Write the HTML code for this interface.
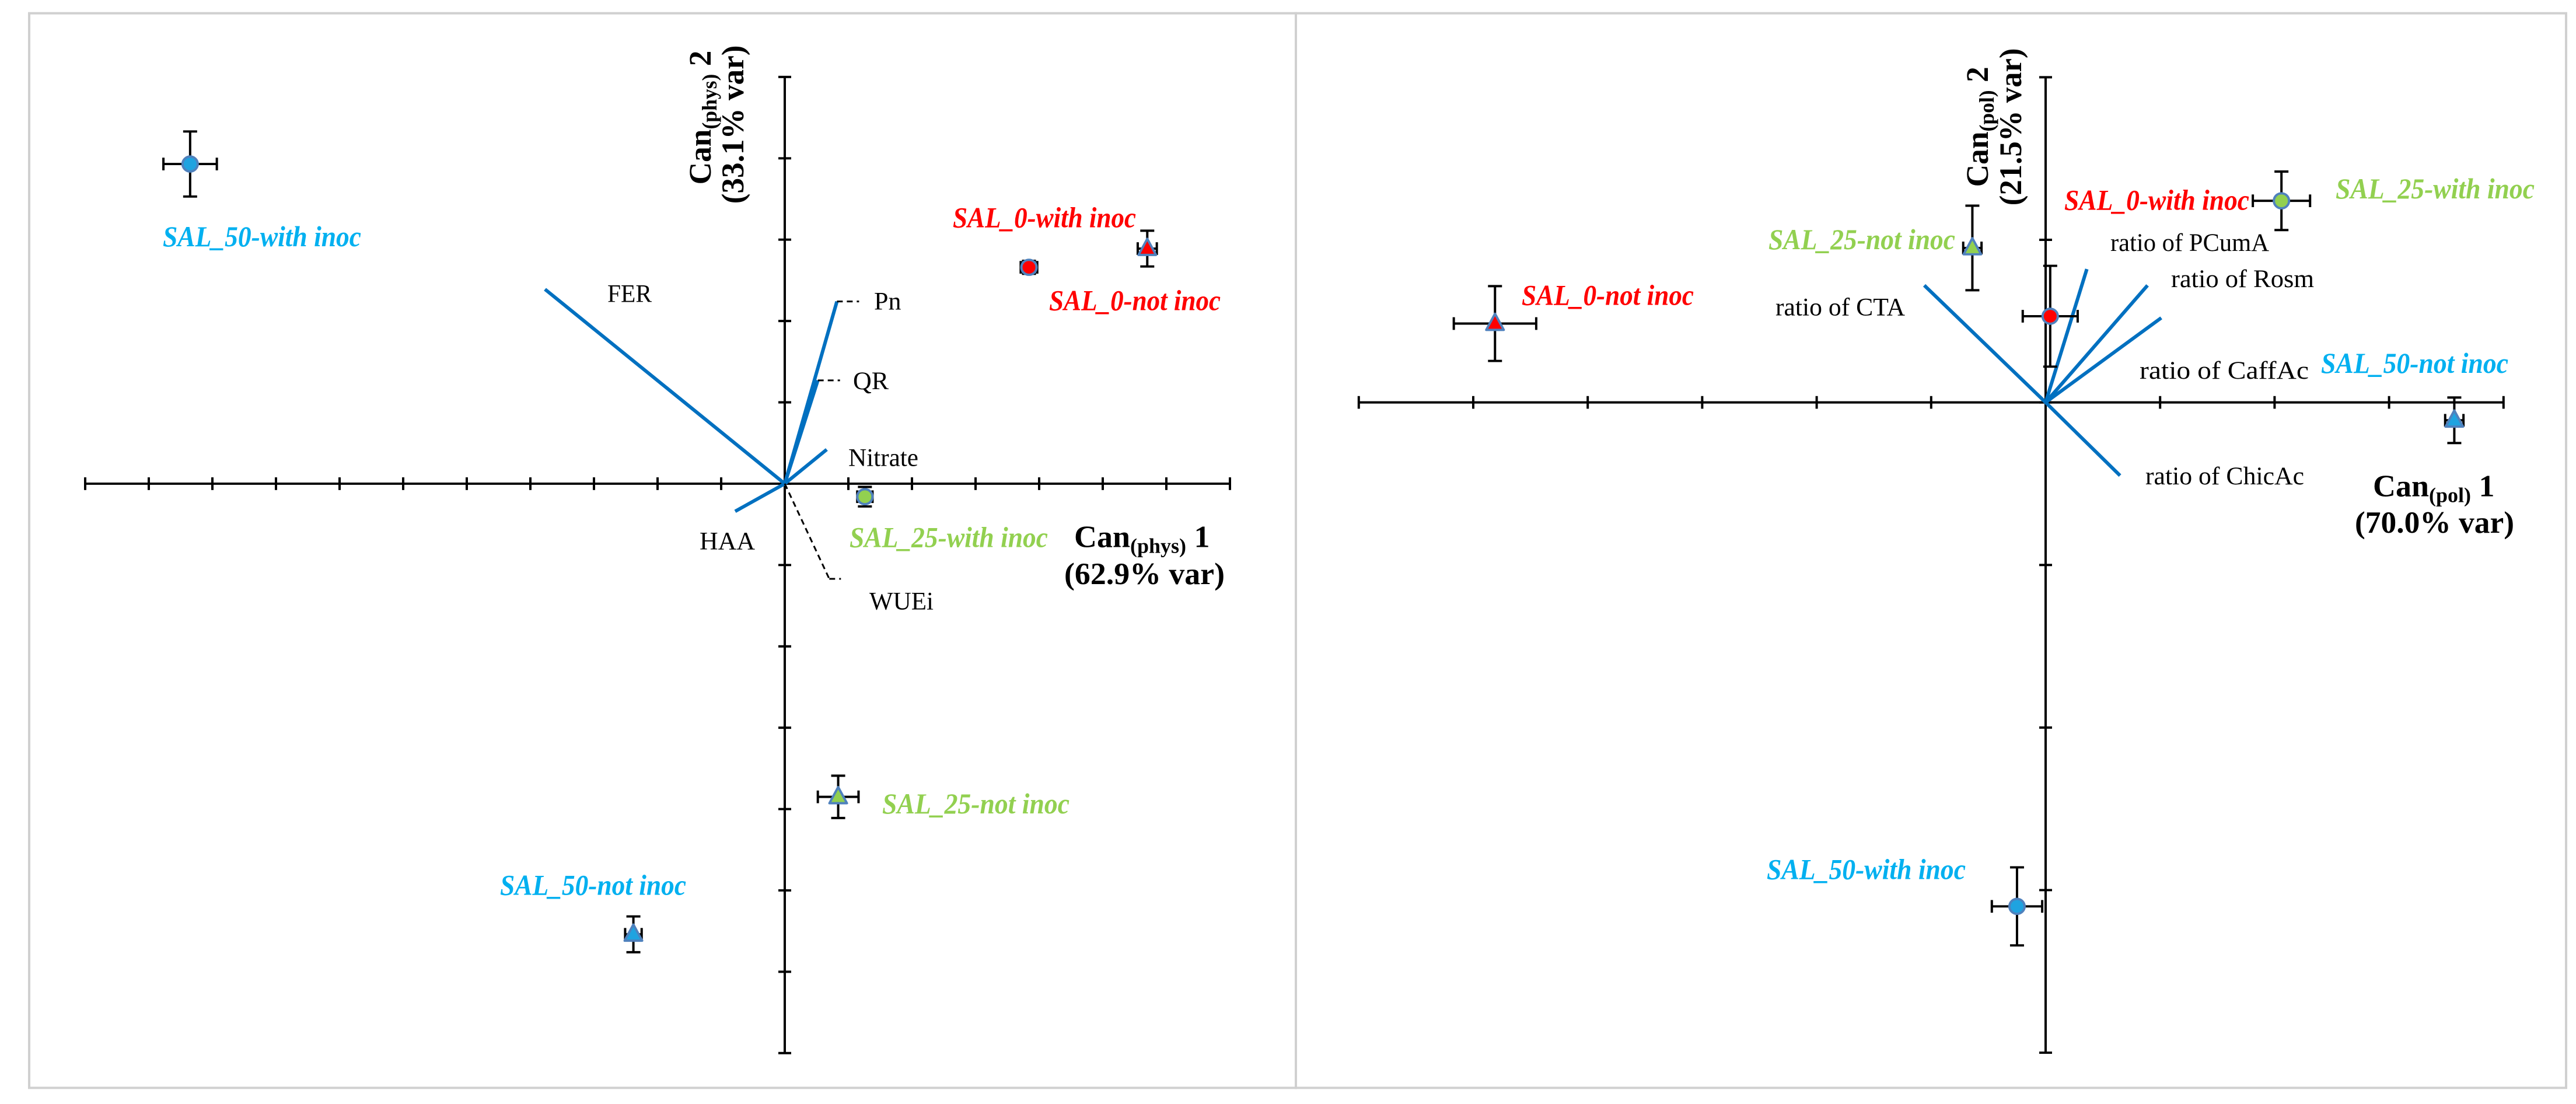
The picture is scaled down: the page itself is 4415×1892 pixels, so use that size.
<!DOCTYPE html>
<html><head><meta charset="utf-8"><style>
html,body{margin:0;padding:0;background:#fff}
svg{display:block}
text{font-family:"Liberation Serif",serif}
.pl{font-weight:bold;font-style:italic;font-size:50px}
.vl{font-size:44px;fill:#000}
.at{font-weight:bold;font-size:54px;fill:#000}
</style></head><body>
<svg id="chart" width="4415" height="1892" viewBox="0 0 4415 1915" preserveAspectRatio="none" xmlns="http://www.w3.org/2000/svg">
<rect x="50" y="23" width="2171" height="1864" fill="none" stroke="#d0d0d0" stroke-width="4"/>
<rect x="2221" y="23" width="2177" height="1864" fill="none" stroke="#d0d0d0" stroke-width="4"/>
<g id="left"></g>
<g id="right"></g>
</svg>
<script>
// ---- Left panel data (physiology) ----
const leftGroups = ["SAL_50-with inoc","SAL_0-with inoc","SAL_0-not inoc","SAL_25-with inoc","SAL_25-not inoc","SAL_50-not inoc"];
const leftX = [-9.35, 3.84, 5.70, 1.26, 0.84, -2.38];
const leftY = [3.93, 2.66, 2.89, -0.16, -3.85, -5.54];
const leftXErr = [0.42, 0.13, 0.15, 0.12, 0.32, 0.13];
const leftYErr = [0.40, 0.08, 0.22, 0.12, 0.26, 0.22];
const leftShape = ["circle","circle","triangle","circle","triangle","triangle"];
const leftVars = ["FER","Pn","QR","Nitrate","HAA","WUEi"];
const leftVX = [-3.77, 0.82, 0.52, 0.66, -0.78, 0.70];
const leftVY = [2.39, 2.24, 1.27, 0.42, -0.34, -1.17];
const leftXTicks = [-11,-10,-9,-8,-7,-6,-5,-4,-3,-2,-1,0,1,2,3,4,5,6,7];
const leftYTicks = [5,4,3,2,1,0,-1,-2,-3,-4,-5,-6,-7];

// ---- Right panel data (polyphenols) ----
const rightGroups = ["SAL_0-not inoc","SAL_25-not inoc","SAL_0-with inoc","SAL_25-with inoc","SAL_50-not inoc","SAL_50-with inoc"];
const rightX = [-4.81, -0.64, 0.04, 2.06, 3.57, -0.25];
const rightY = [0.485, 0.95, 0.53, 1.24, -0.11, -3.10];
const rightXErr = [0.36, 0.08, 0.24, 0.25, 0.08, 0.22];
const rightYErr = [0.23, 0.26, 0.31, 0.18, 0.14, 0.24];
const rightShape = ["triangle","triangle","circle","circle","triangle","circle"];
const rightVars = ["ratio of CTA","ratio of PCumA","ratio of Rosm","ratio of CaffAc","ratio of ChicAc"];
const rightVX = [-1.06, 0.36, 0.89, 1.01, 0.65];
const rightVY = [0.72, 0.82, 0.72, 0.52, -0.45];
const rightXTicks = [-6,-5,-4,-3,-2,-1,0,1,2,3,4];
const rightYTicks = [2,1,0,-1,-2,-3,-4];

const NS = "http://www.w3.org/2000/svg";
function mk(parent, tag, attrs){const e=document.createElementNS(NS,tag);for(const k in attrs)e.setAttribute(k,attrs[k]);parent.appendChild(e);return e;}
const colorOf = g => g.indexOf("SAL_0-")===0?"#FF0000":(g.indexOf("SAL_25")===0?"#92D050":"#1FA3E0");

function drawPanel(root, cfg){
  const sx = v => cfg.ox + v*cfg.ux;
  const sy = v => cfg.oy - v*cfg.uy;
  const xmin=Math.min(...cfg.xt), xmax=Math.max(...cfg.xt), ymin=Math.min(...cfg.yt), ymax=Math.max(...cfg.yt);
  let a = mk(root,"line",{x1:sx(xmin),x2:sx(xmax),y1:sy(0),y2:sy(0),stroke:"#000","stroke-width":4});
  
  
  a = mk(root,"line",{x1:sx(0),x2:sx(0),y1:sy(ymax),y2:sy(ymin),stroke:"#000","stroke-width":4});
  
  
  cfg.xt.forEach(t=>{const e=mk(root,"line",{x1:sx(t),x2:sx(t),y1:sy(0)-11,y2:sy(0)+11,stroke:"#000","stroke-width":4});
    
    });
  cfg.yt.forEach(t=>{const e=mk(root,"line",{x1:sx(0)-11,x2:sx(0)+11,y1:sy(t),y2:sy(t),stroke:"#000","stroke-width":4});
    
    });
  cfg.vars.forEach((v,i)=>{
    const dashed = cfg.dashVars.indexOf(v)>=0;
    const e=mk(root,"line",{x1:sx(0),y1:sy(0),x2:sx(cfg.vx[i]),y2:sy(cfg.vy[i]),stroke:dashed?"#000":"#0070C0","stroke-width":dashed?3:6,"stroke-dasharray":dashed?"10,7":"none"});
    
    
    if(cfg.leader[v]){const L=cfg.leader[v];
      const d=mk(root,"line",{x1:sx(cfg.vx[i]),y1:sy(cfg.vy[i]),x2:sx(cfg.vx[i])+L,y2:sy(cfg.vy[i]),stroke:"#000","stroke-width":3,"stroke-dasharray":"10,7"});
      
      }
  });
  cfg.groups.forEach((g,i)=>{
    const cx=sx(cfg.x[i]), cy=sy(cfg.y[i]);
    const ex=cfg.xe[i]*cfg.ux, ey=cfg.ye[i]*cfg.uy;
    const eg=mk(root,"g",{stroke:"#000","stroke-width":4});
    
    
    mk(eg,"line",{x1:cx-ex,x2:cx+ex,y1:cy,y2:cy});
    mk(eg,"line",{x1:cx,x2:cx,y1:cy-ey,y2:cy+ey});
    mk(eg,"line",{x1:cx-ex,x2:cx-ex,y1:cy-11,y2:cy+11});
    mk(eg,"line",{x1:cx+ex,x2:cx+ex,y1:cy-11,y2:cy+11});
    mk(eg,"line",{x1:cx-12,x2:cx+12,y1:cy-ey,y2:cy-ey});
    mk(eg,"line",{x1:cx-12,x2:cx+12,y1:cy+ey,y2:cy+ey});
    let m;
    if(cfg.shape[i]==="circle") m=mk(root,"circle",{cx:cx,cy:cy,r:13,fill:colorOf(g),stroke:"#4F81BD","stroke-width":4});
    else m=mk(root,"polygon",{points:`${cx},${cy-17} ${cx+15},${cy+11} ${cx-15},${cy+11}`,fill:colorOf(g),stroke:"#4F81BD","stroke-width":4,"stroke-linejoin":"round"});
    
    
  });
}

drawPanel(document.getElementById("left"),{p:"left",ox:1345,oy:839,ux:109.0,uy:141.1,xt:leftXTicks,yt:leftYTicks,
  groups:leftGroups,x:leftX,y:leftY,xe:leftXErr,ye:leftYErr,shape:leftShape,vars:leftVars,vx:leftVX,vy:leftVY,
  dashVars:["WUEi"],leader:{"Pn":38,"QR":38,"WUEi":20}});
drawPanel(document.getElementById("right"),{p:"right",ox:3506,oy:698,ux:196.2,uy:282,xt:rightXTicks,yt:rightYTicks,
  groups:rightGroups,x:rightX,y:rightY,xe:rightXErr,ye:rightYErr,shape:rightShape,vars:rightVars,vx:rightVX,vy:rightVY,
  dashVars:[],leader:{}});
</script>
<svg style="position:absolute;left:0;top:0" width="4415" height="1892" viewBox="0 0 4415 1915" preserveAspectRatio="none" xmlns="http://www.w3.org/2000/svg">
<g class="pl">
<text x="279" y="427" fill="#00B0F0" textLength="340" lengthAdjust="spacingAndGlyphs">SAL_50-with inoc</text>
<text x="1633" y="394" fill="#FF0000" textLength="314" lengthAdjust="spacingAndGlyphs">SAL_0-with inoc</text>
<text x="1798" y="538" fill="#FF0000" textLength="294" lengthAdjust="spacingAndGlyphs">SAL_0-not inoc</text>
<text x="1456" y="949" fill="#92D050" textLength="340" lengthAdjust="spacingAndGlyphs">SAL_25-with inoc</text>
<text x="1512" y="1411" fill="#92D050" textLength="321" lengthAdjust="spacingAndGlyphs">SAL_25-not inoc</text>
<text x="857" y="1552" fill="#00B0F0" textLength="319" lengthAdjust="spacingAndGlyphs">SAL_50-not inoc</text>
</g>
<g class="vl">
<text x="1041" y="524" textLength="76" lengthAdjust="spacingAndGlyphs">FER</text>
<text x="1498" y="537">Pn</text>
<text x="1462" y="675">QR</text>
<text x="1454" y="808" textLength="120" lengthAdjust="spacingAndGlyphs">Nitrate</text>
<text x="1199" y="953" textLength="95" lengthAdjust="spacingAndGlyphs">HAA</text>
<text x="1490" y="1057" textLength="110" lengthAdjust="spacingAndGlyphs">WUEi</text>
</g>
<g class="at">
<text x="1841" y="949">Can<tspan font-size="36" dy="10">(phys)</tspan><tspan dy="-10"> 1</tspan></text>
<text x="1824" y="1013" textLength="275" lengthAdjust="spacingAndGlyphs">(62.9% var)</text>
<text transform="translate(1218,204) rotate(-90)" text-anchor="middle">Can<tspan font-size="36" dy="10">(phys)</tspan><tspan dy="-10"> 2</tspan></text>
<text transform="translate(1274,216) rotate(-90)" text-anchor="middle" textLength="275" lengthAdjust="spacingAndGlyphs">(33.1% var)</text>
</g>
<g class="pl">
<text x="3538" y="364" fill="#FF0000" textLength="317" lengthAdjust="spacingAndGlyphs">SAL_0-with inoc</text>
<text x="4003" y="344" fill="#92D050" textLength="341" lengthAdjust="spacingAndGlyphs">SAL_25-with inoc</text>
<text x="3031" y="432" fill="#92D050" textLength="320" lengthAdjust="spacingAndGlyphs">SAL_25-not inoc</text>
<text x="2608" y="529" fill="#FF0000" textLength="295" lengthAdjust="spacingAndGlyphs">SAL_0-not inoc</text>
<text x="3978" y="647" fill="#00B0F0" textLength="321" lengthAdjust="spacingAndGlyphs">SAL_50-not inoc</text>
<text x="3028" y="1525" fill="#00B0F0" textLength="341" lengthAdjust="spacingAndGlyphs">SAL_50-with inoc</text>
</g>
<g class="vl">
<text x="3617" y="435" textLength="272" lengthAdjust="spacingAndGlyphs">ratio of PCumA</text>
<text x="3721" y="498" textLength="245" lengthAdjust="spacingAndGlyphs">ratio of Rosm</text>
<text x="3043" y="547" textLength="222" lengthAdjust="spacingAndGlyphs">ratio of CTA</text>
<text x="3667" y="657" textLength="290" lengthAdjust="spacingAndGlyphs">ratio of CaffAc</text>
<text x="3677" y="840" textLength="272" lengthAdjust="spacingAndGlyphs">ratio of ChicAc</text>
</g>
<g class="at">
<text x="4067" y="861">Can<tspan font-size="36" dy="10">(pol)</tspan><tspan dy="-10"> 1</tspan></text>
<text x="4036" y="924" textLength="273" lengthAdjust="spacingAndGlyphs">(70.0% var)</text>
<text transform="translate(3407,220) rotate(-90)" text-anchor="middle">Can<tspan font-size="36" dy="10">(pol)</tspan><tspan dy="-10"> 2</tspan></text>
<text transform="translate(3464,220) rotate(-90)" text-anchor="middle" textLength="273" lengthAdjust="spacingAndGlyphs">(21.5% var)</text>
</g>
</svg>
</body></html>
